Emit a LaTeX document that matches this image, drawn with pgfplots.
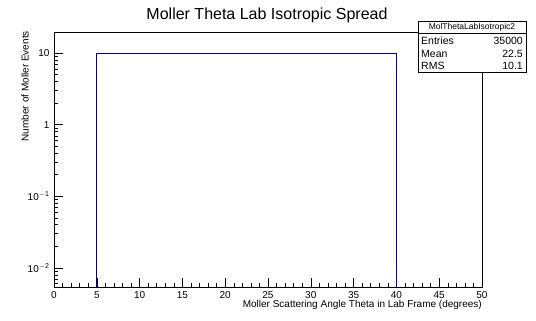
\documentclass[border=0pt]{standalone}
\usepackage{fontspec}
\setmainfont{Liberation Sans}
\usepackage{pgfplots}
\pgfplotsset{compat=1.18}
\definecolor{rootblue}{RGB}{0,0,153}
\begin{document}
\begin{tikzpicture}[x=1pt,y=1pt]
\path[use as bounding box, fill=white] (0,0) rectangle (536,321);
\begin{axis}[
  at={(54pt,34pt)}, anchor=south west,
  scale only axis, width=428pt, height=255pt,
  xmin=0, xmax=50, ymode=log, ymin=0.0054, ymax=19.7,
  axis line style={black, line width=0.6pt},
  tick align=inside, xtick pos=bottom, ytick pos=left,
  xtick={0,5,...,50}, minor x tick num=4,
  ytick={0.01,0.1,1,10},
  yticklabels={10\textsuperscript{$-$2},10\textsuperscript{$-$1},1,10},
  minor ytick={0.006,0.007,0.008,0.009,0.02,0.03,0.04,0.05,0.06,0.07,0.08,0.09,0.2,0.3,0.4,0.5,0.6,0.7,0.8,0.9,2,3,4,5,6,7,8,9},
  major tick length=9pt, minor tick length=4.5pt,
  tick style={black, line width=0.5pt},
  /pgf/number format/assume math mode=true,
  ticklabel style={font=\fontsize{10}{11}\selectfont},
  xticklabel style={yshift=-1pt},
  yticklabel style={xshift=-1pt},
]
\addplot[rootblue, line width=0.8pt] coordinates {(5,0.001) (5,10) (40,10) (40,0.001)};
\end{axis}
\node[anchor=center, font=\fontsize{16}{18}\selectfont] at (267,306) {Moller Theta Lab Isotropic Spread};
\node[anchor=base east, inner sep=0pt, font=\fontsize{10}{11}\selectfont] at (482,13) {Moller Scattering Angle Theta in Lab Frame (degrees)};
\node[rotate=90, anchor=east, inner sep=0pt, font=\fontsize{10}{11}\selectfont] at (25,290) {Number of Moller Events};
% stats box
\draw[black, line width=0.6pt, fill=white] (418,249) rectangle (526,300);
\draw[black, line width=0.6pt] (418,288) -- (526,288);
\node[font=\fontsize{8.5}{9}\selectfont, inner sep=0pt] at (472,294) {MolThetaLabIsotropic2};
\begin{scope}[every node/.style={inner sep=0pt, font=\fontsize{10.5}{11}\selectfont}]
\node[anchor=west] at (421,280) {Entries};
\node[anchor=east] at (523,280) {35000};
\node[anchor=west] at (421,267.5) {Mean};
\node[anchor=east] at (523,267.5) {22.5};
\node[anchor=west] at (421,255) {RMS};
\node[anchor=east] at (523,255) {10.1};
\end{scope}
\end{tikzpicture}
\end{document}
